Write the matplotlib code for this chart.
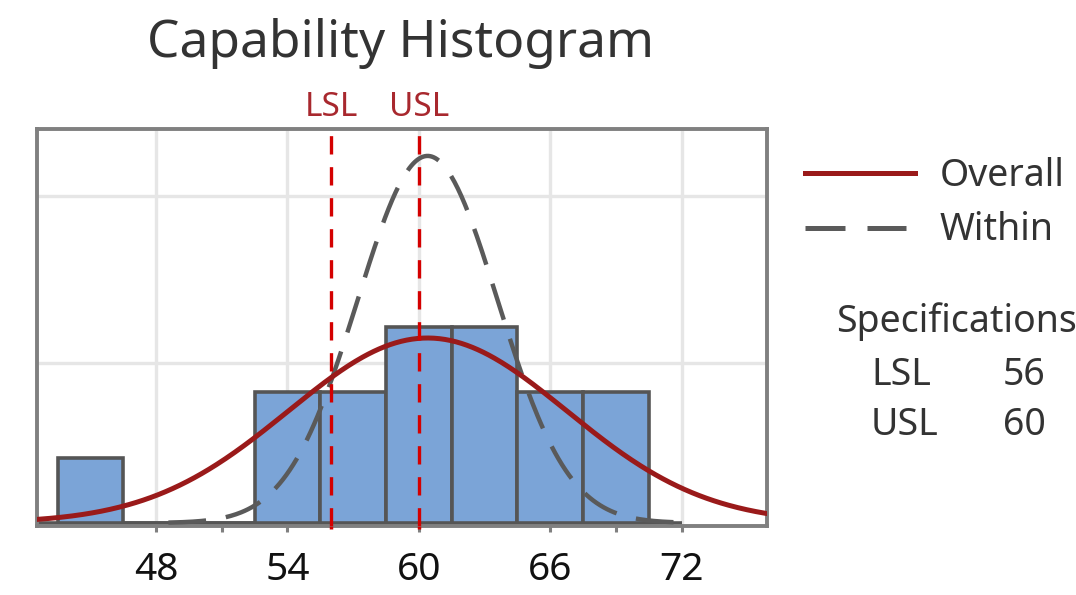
import numpy as np
import matplotlib
matplotlib.use("Agg")
import matplotlib.pyplot as plt
from matplotlib.lines import Line2D
from matplotlib.transforms import blended_transform_factory

plt.rcParams['font.family'] = ['Noto Sans', 'DejaVu Sans']

# histogram of the sample (bin width 3)
bin_centers = [45, 48, 51, 54, 57, 60, 63, 66, 69]
bin_counts = [1, 0, 0, 2, 2, 3, 3, 2, 2]
bin_width = 3

# process estimates
mean = 60.4
sigma_overall = 6.35
sigma_within = 3.2

lsl = 56
usl = 60

x_ticks = [48, 54, 60, 66, 72]
x_minor = [51, 69]
grid_levels = [2.45, 5.0]

BAR = '#7ba4d7'
EDGE = '#555555'
OVERALL = '#9a1a1a'
WITHIN = '#5a5a5a'
SPEC = '#d40000'
SPEC_TXT = '#a8282e'
FRAME = '#808080'
TXT = '#333333'

n = sum(bin_counts)
scale = n * bin_width


def normal_curve(x, mu, sd):
    return scale * np.exp(-0.5 * ((x - mu) / sd) ** 2) / (sd * np.sqrt(2 * np.pi))


fig = plt.figure(figsize=(10.76, 5.95), dpi=100)
ax = fig.add_axes([0.0344, 0.116, 0.6784, 0.667])
ax.set_xlim(42.56, 75.9)
ax.set_ylim(-0.046, 6.02)

# grid
ax.set_xticks(x_ticks)
ax.set_xticks(x_minor, minor=True)
ax.set_yticks(grid_levels)
ax.set_yticklabels([])
ax.grid(True, which='major', color='#e6e6e6', lw=2.4, zorder=0)
ax.set_axisbelow(True)
ax.tick_params(axis='y', length=0)
ax.tick_params(axis='x', which='both', length=4, width=2.2, color=FRAME,
               labelsize=28, pad=14, labelcolor='#111111')
for s in ax.spines.values():
    s.set_color(FRAME)
    s.set_linewidth(2.8)

# baseline under the bars, out to the last tick
ax.plot([ax.get_xlim()[0], x_ticks[-1]], [0, 0], color=EDGE, lw=2.6, zorder=2,
        solid_capstyle='butt')

ax.bar(bin_centers, bin_counts, width=bin_width, color=BAR, edgecolor=EDGE,
       linewidth=2.6, zorder=2)

# fitted curves
xo = np.linspace(*ax.get_xlim(), 400)
xw = np.linspace(mean - 3.7 * sigma_within, mean + 3.7 * sigma_within, 300)
ax.plot(xw, normal_curve(xw, mean, sigma_within), color=WITHIN, lw=3.2,
        dashes=(8.5, 4.5), zorder=4, dash_capstyle='butt')
ax.plot(xo, normal_curve(xo, mean, sigma_overall), color=OVERALL, lw=3.6, zorder=5)

# spec limits
for v, name in [(lsl, 'LSL'), (usl, 'USL')]:
    ax.axvline(v, color=SPEC, lw=2.4, dashes=(5.5, 3.8), zorder=6)
    tr = blended_transform_factory(ax.transData, fig.transFigure)
    ax.text(v, 0.805, name, transform=tr, ha='center', va='baseline',
            fontsize=24, color=SPEC_TXT)
    tb = blended_transform_factory(ax.transData, ax.transAxes)
    ax.plot([v, v], [0, -0.008], transform=tb, color=SPEC, lw=2.5,
            clip_on=False, zorder=7, solid_capstyle='butt')

fig.text(0.372, 0.904, 'Capability Histogram', ha='center', va='baseline',
         fontsize=37, color=TXT)

# legend
W, H = 1076, 595


def fx(px):
    return px / W


def fy(py):
    return 1 - py / H


fig.add_artist(Line2D([fx(805), fx(915)], [fy(173), fy(173)], color=OVERALL,
                      lw=3.6, transform=fig.transFigure))
fig.add_artist(Line2D([fx(805), fx(906)], [fy(228), fy(228)], color=WITHIN,
                      lw=3.6, dashes=(8, 4.4), dash_capstyle='butt',
                      transform=fig.transFigure))
fig.text(fx(940), fy(176), 'Overall', va='center', fontsize=27, color=TXT)
fig.text(fx(940), fy(230), 'Within', va='center', fontsize=27, color=TXT)

fig.text(fx(836), fy(322), 'Specifications', va='center', fontsize=27, color=TXT)
for row, (name, v) in enumerate([('LSL', lsl), ('USL', usl)]):
    y = fy(375 + 50 * row)
    fig.text(fx(871), y, name, va='center', fontsize=27, color=TXT)
    fig.text(fx(1003), y, str(v), va='center', fontsize=27, color=TXT)

fig.savefig('out.png', dpi=100)
